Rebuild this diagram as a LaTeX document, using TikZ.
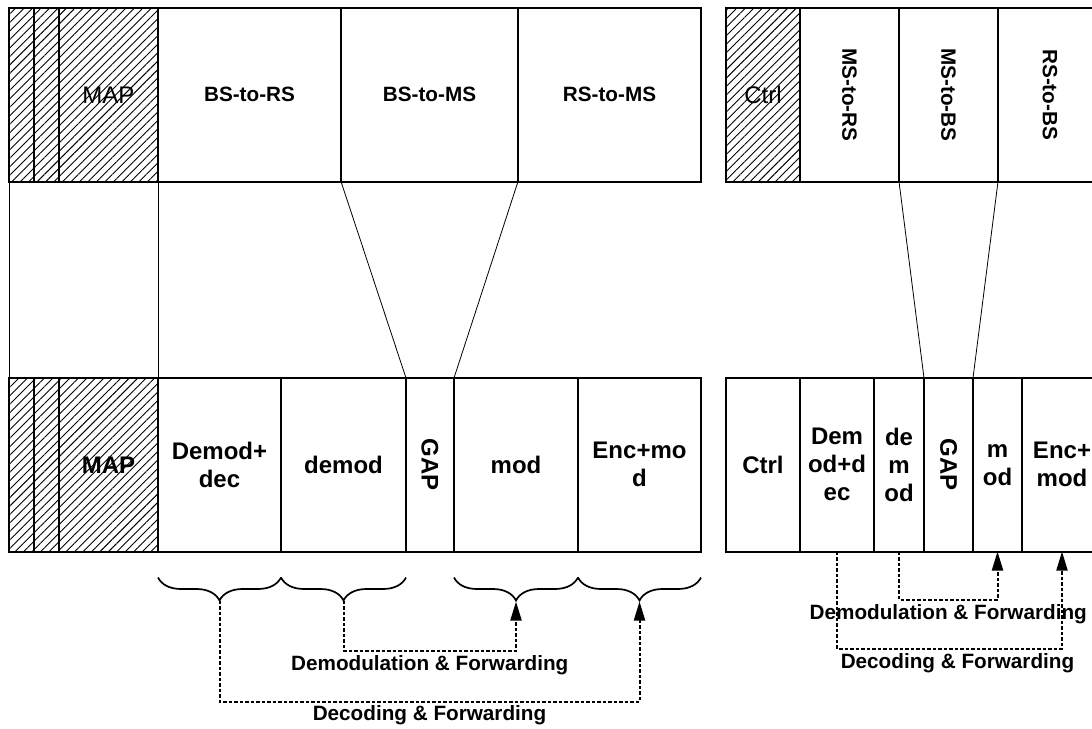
\documentclass[tikz,border=0pt]{standalone}
\usepackage{fontspec}
\setmainfont{Liberation Sans}
\usepackage{tikz}
\usetikzlibrary{arrows.meta,positioning,decorations.pathreplacing,patterns.meta,calc}
\newcommand{\cellfont}{\fontsize{24}{28}\selectfont\bfseries}
\newcommand{\hdrfont}{\fontsize{20.7}{24}\selectfont\bfseries}
\newcommand{\mapfont}{\fontsize{24}{28}\selectfont}

\begin{document}
\begin{tikzpicture}[x=1pt, y=-1pt,
  cell/.style={draw, line width=2pt, inner sep=0pt, outer sep=0pt, anchor=north west, minimum height=173.5pt, align=center, font=\cellfont},
  hatch/.style={pattern={Lines[angle=45,distance=6pt,line width=0.9pt]}},
  link/.style={line width=0.8pt},
  fwd/.style={line width=2pt, dash pattern=on 3.5pt off 2pt, -{Triangle[length=19pt,width=11pt]}},
  brc/.style={decorate, decoration={brace,mirror,amplitude=23pt}, line width=1.7pt},
  rot/.style={rotate=-90, font=\cellfont}]
  \useasboundingbox (0,0) rectangle (1092,728);
  \clip (0,0) rectangle (1092,728);

  % upper frames
  \foreach \n/\x/\w in {ta/9/25,tb/34/25}{
    \node[cell, hatch, minimum width=\w pt] (\n) at (\x,8) {};
  }
  \node[cell, hatch, minimum width=99pt, font=\mapfont] (tmap) at (59,8) {MAP};
  \foreach \n/\x/\w/\t in {tbsrs/158/183/BS-to-RS, tbsms/341/177/BS-to-MS, trsms/518/183/RS-to-MS}{
    \node[cell, minimum width=\w pt, font=\hdrfont] (\n) at (\x,8) {\t};
  }
  \node[cell, hatch, minimum width=74pt, font=\mapfont] (tctrl) at (726,8) {Ctrl};
  \foreach \n/\x/\w/\t in {tmsrs/800/99/MS-to-RS, tmsbs/899/99/MS-to-BS, trsbs/998/104/RS-to-BS}{
    \node[cell, minimum width=\w pt] (\n) at (\x,8) {};
    \node[rot, font=\hdrfont] (l\n) at (\n) {\t};
  }

  % lower frames
  \foreach \n/\x/\w in {ba/9/25,bb/34/25}{
    \node[cell, hatch, minimum width=\w pt] (\n) at (\x,378) {};
  }
  \node[cell, hatch, minimum width=99pt] (bmap) at (59,378) {MAP};
  \foreach \n/\x/\w/\t in {bdd/158/123/{Demod+\\dec}, bdm/281/125/demod, bgap/406/48/{}, bmod/454/124/mod, benc/578/123/{Enc+mo\\d},
                           bRctrl/726/74/Ctrl, bRdd/800/74/{Dem\\od+d\\ec}, bRdm/874/50/{de\\m\\od}, bRgap/924/49/{}, bRmod/973/49/{m\\od}, bRenc/1022/80/{Enc+\\mod}}{
    \node[cell, minimum width=\w pt] (\n) at (\x,378) {\t};
  }
  \node[rot] (lgap) at (bgap) {GAP};
  \node[rot] (lRgap) at (bRgap) {GAP};

  % links between frames
  \draw[link] (ta.south west) -- (ba.north west);
  \draw[link] (tmap.south east) -- (bmap.north east);
  \draw[link] (tbsms.south west) -- (bgap.north west);
  \draw[link] (tbsms.south east) -- (bgap.north east);
  \draw[link] (tmsbs.south west) -- (bRgap.north west);
  \draw[link] (tmsbs.south east) -- (bRgap.north east);

  % braces
  \foreach \n in {bdd,bdm,bmod,benc}{
    \draw[brc] ([yshift=-26pt]\n.south west) -- ([yshift=-26pt]\n.south east);
  }

  % forwarding
  \draw[fwd] ([yshift=-49pt]bdm.south) -- ++(0,50) -| node[pos=0.25, yshift=-15pt, font=\hdrfont] (ldem) {Demodulation \& Forwarding} ([yshift=-50pt]bmod.south);
  \draw[fwd] ([yshift=-49pt]bdd.south) -- ++(0,101) -| node[pos=0.25, yshift=-14pt, font=\hdrfont] (ldec) {Decoding \& Forwarding} ([yshift=-50pt]benc.south);
  \draw[fwd] (bRdm.south) -- ++(0,48) -| node[pos=0.25, yshift=-15pt, font=\hdrfont] (lRdem) {Demodulation \& Forwarding} (bRmod.south);
  \draw[fwd] (bRdd.south) -- ++(0,97) -| node[pos=0.25, yshift=-15pt, xshift=8pt, font=\hdrfont] (lRdec) {Decoding \& Forwarding} (bRenc.south);
\end{tikzpicture}
\end{document}
